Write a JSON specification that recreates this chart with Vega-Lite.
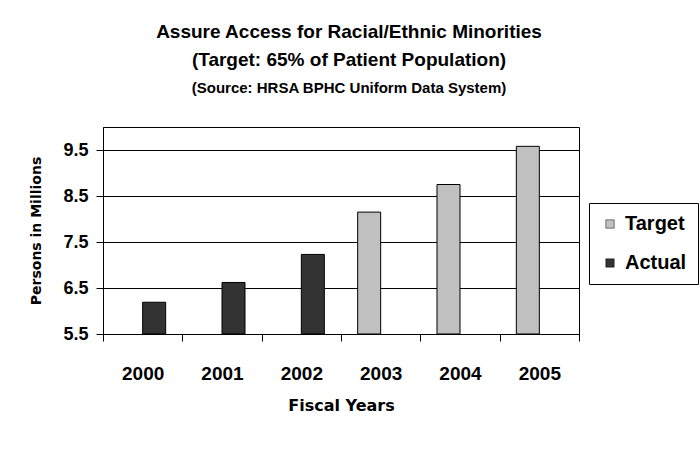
{
  "$schema": "https://vega.github.io/schema/vega-lite/v6.json",
  "width": 476,
  "height": 207,
  "autosize": {"type": "none"},
  "padding": {"left": 103, "top": 127, "right": 120, "bottom": 116},
  "background": "white",
  "title": {
    "text": ["Assure Access for Racial/Ethnic Minorities", "(Target: 65% of Patient Population)"],
    "subtitle": "(Source:  HRSA BPHC Uniform Data System)",
    "anchor": "middle",
    "frame": "group",
    "dx": 8,
    "offset": 31,
    "font": "Liberation Sans",
    "fontSize": 19,
    "fontWeight": "bold",
    "lineHeight": 28,
    "color": "black",
    "subtitleFont": "Liberation Sans",
    "subtitleFontSize": 15,
    "subtitleFontWeight": "bold",
    "subtitleColor": "black",
    "subtitlePadding": 11
  },
  "data": {
    "values": [
      {"year": "2000", "series": "Actual", "persons": 6.19},
      {"year": "2001", "series": "Actual", "persons": 6.62},
      {"year": "2002", "series": "Actual", "persons": 7.23},
      {"year": "2003", "series": "Target", "persons": 8.15},
      {"year": "2004", "series": "Target", "persons": 8.75},
      {"year": "2005", "series": "Target", "persons": 9.58}
    ]
  },
  "mark": {"type": "bar", "stroke": "black", "strokeWidth": 1},
  "encoding": {
    "x": {
      "field": "year",
      "type": "ordinal",
      "scale": {"paddingInner": 0, "paddingOuter": 0},
      "axis": {
        "title": "Fiscal Years",
        "labelAngle": 0,
        "labelFontSize": 19,
        "tickBand": "extent",
        "tickSize": 7,
        "labelPadding": 23,
        "titlePadding": 14
      }
    },
    "xOffset": {
      "field": "series",
      "type": "nominal",
      "scale": {"domain": ["Target", "Actual"], "paddingInner": 0, "paddingOuter": 0.7245}
    },
    "y": {
      "field": "persons",
      "type": "quantitative",
      "scale": {"domain": [5.5, 10], "zero": false, "nice": false},
      "axis": {
        "title": "Persons in Millions",
        "values": [5.5, 6.5, 7.5, 8.5, 9.5],
        "format": ".1f",
        "labelFontSize": 18,
        "tickSize": 7,
        "labelPadding": 8,
        "titlePadding": 19,
        "grid": true
      }
    },
    "y2": {"datum": 5.5},
    "color": {
      "field": "series",
      "type": "nominal",
      "scale": {"domain": ["Target", "Actual"], "range": ["#c0c0c0", "#333333"]},
      "legend": {
        "title": null,
        "orient": "none",
        "legendX": 486,
        "legendY": 76,
        "padding": 11,
        "rowPadding": 19,
        "strokeColor": "black",
        "fillColor": "white",
        "symbolType": "square",
        "symbolSize": 70,
        "symbolStrokeColor": "black",
        "symbolStrokeWidth": 0.5,
        "symbolOpacity": 1,
        "labelFont": "Liberation Sans",
        "labelFontSize": 20,
        "labelFontWeight": "bold",
        "labelColor": "black",
        "labelOffset": 5
      }
    }
  },
  "config": {
    "view": {"stroke": "black", "strokeWidth": 1},
    "axis": {
      "domainColor": "black",
      "domainWidth": 1,
      "tickColor": "black",
      "tickWidth": 1,
      "gridColor": "black",
      "gridWidth": 1,
      "gridOpacity": 1,
      "labelFont": "Liberation Sans",
      "labelFontWeight": "bold",
      "labelColor": "black",
      "titleColor": "black",
      "titleFontWeight": "bold"
    },
    "axisX": {"titleFont": "DejaVu Sans", "titleFontSize": 16},
    "axisY": {"titleFont": "DejaVu Sans", "titleFontSize": 14}
  }
}
